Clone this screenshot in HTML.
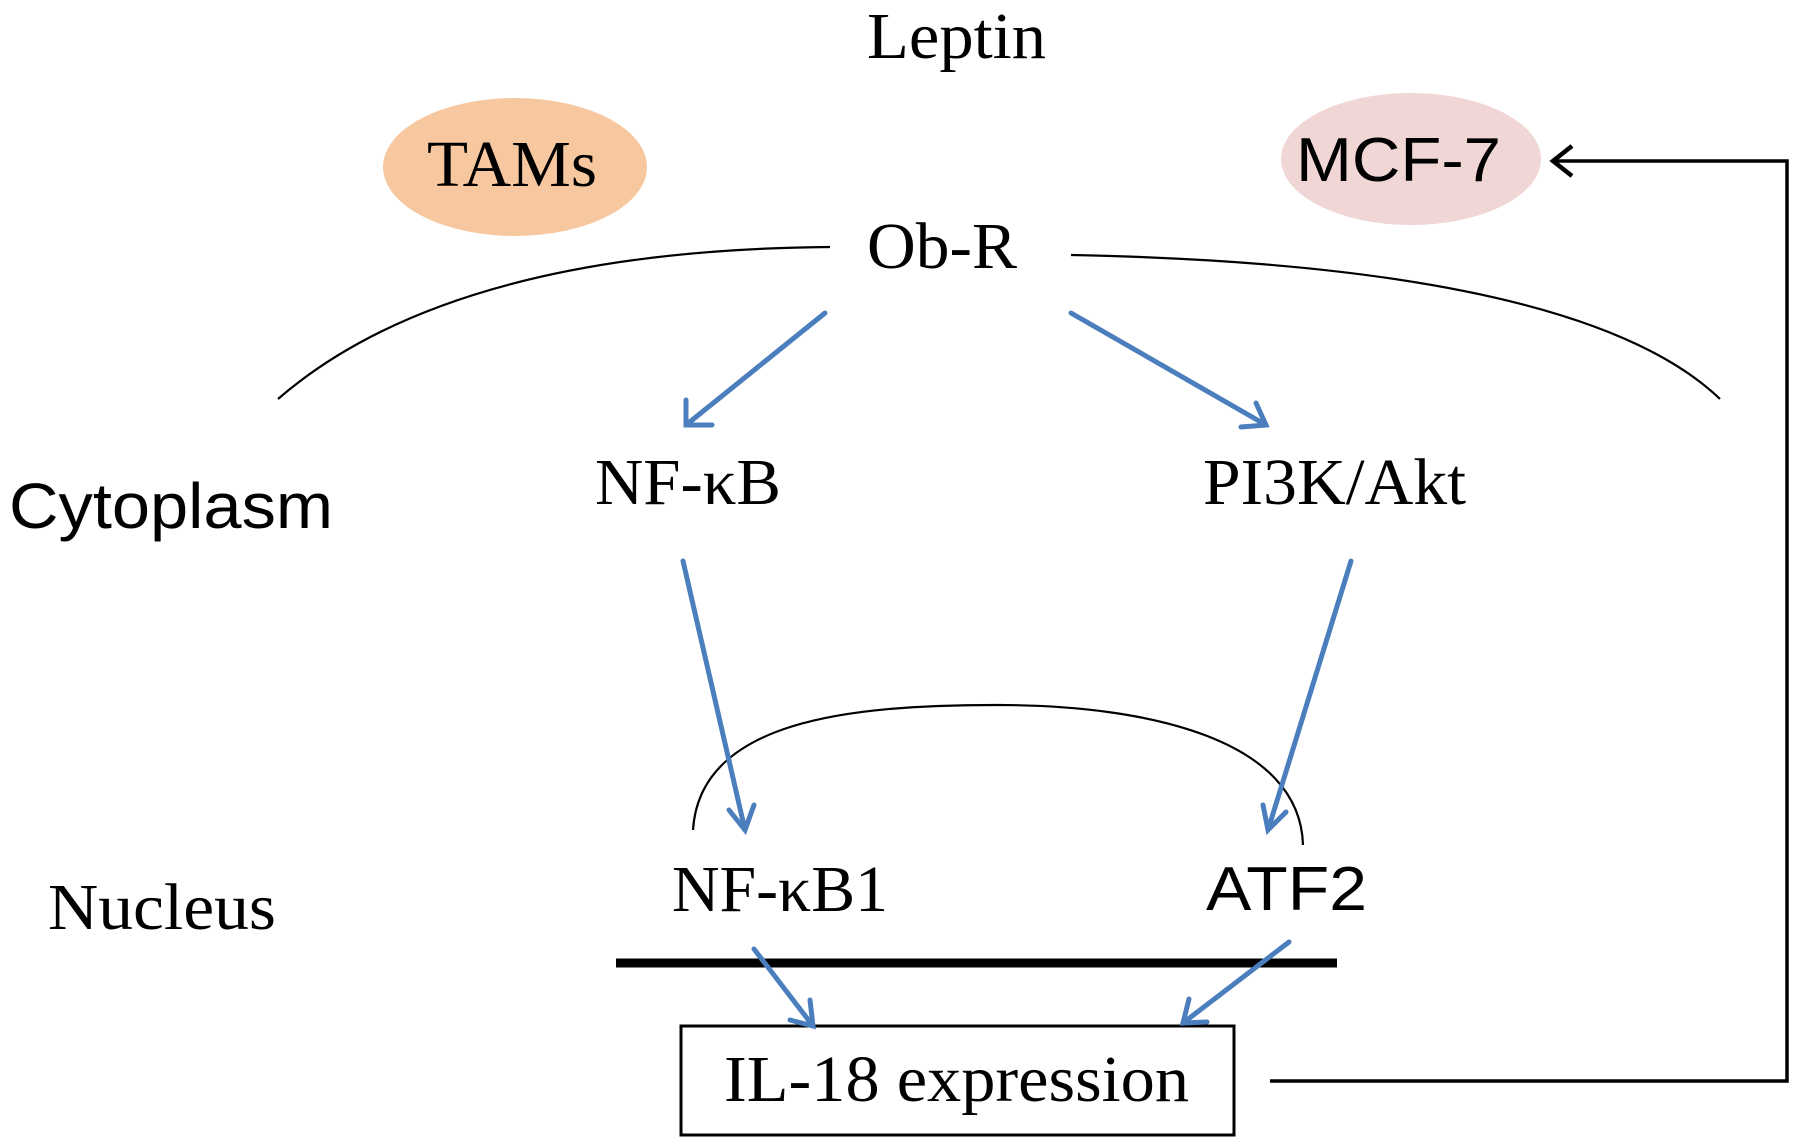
<!DOCTYPE html>
<html><head><style>html,body{margin:0;padding:0;background:#fff}</style></head>
<body>
<svg width="1795" height="1143" viewBox="0 0 1795 1143" xmlns="http://www.w3.org/2000/svg">
<ellipse cx="515" cy="167" rx="132" ry="69" fill="#f7c8a0"/>
<ellipse cx="1411" cy="159" rx="130" ry="66" fill="#f0d6d4"/>
<g font-family="Liberation Serif, serif" fill="#000" lengthAdjust="spacingAndGlyphs">
<text x="867" y="58" font-size="66" textLength="179" lengthAdjust="spacingAndGlyphs">Leptin</text>
<text x="427" y="186" font-size="66" textLength="170" lengthAdjust="spacingAndGlyphs">TAMs</text>
<text x="867" y="268" font-size="66" textLength="150" lengthAdjust="spacingAndGlyphs">Ob-R</text>
<text x="595" y="504" font-size="66" textLength="186" lengthAdjust="spacingAndGlyphs">NF-κB</text>
<text x="1203" y="504" font-size="66" textLength="263" lengthAdjust="spacingAndGlyphs">PI3K/Akt</text>
<text x="672" y="911" font-size="66" textLength="216" lengthAdjust="spacingAndGlyphs">NF-κB1</text>
<text x="48" y="929" font-size="66" textLength="228" lengthAdjust="spacingAndGlyphs">Nucleus</text>
<text x="724" y="1101" font-size="66" textLength="465" lengthAdjust="spacingAndGlyphs">IL-18 expression</text>
</g>
<g font-family="Liberation Sans, sans-serif" fill="#000">
<text x="1296" y="181" font-size="62" textLength="205" lengthAdjust="spacingAndGlyphs">MCF-7</text>
<text x="9" y="528" font-size="64" textLength="324" lengthAdjust="spacingAndGlyphs">Cytoplasm</text>
<text x="1206" y="910" font-size="62" textLength="161" lengthAdjust="spacingAndGlyphs">ATF2</text>
</g>
<g fill="none" stroke="#000" stroke-width="2.2">
<path d="M278,399 Q450,250 830,247"/>
<path d="M1071,255 Q1580,265 1720,399"/>
<path d="M693,830 C700,720 850,705 997,705 C1150,705 1300,740 1303,845"/>
</g>
<line x1="616" y1="963" x2="1337" y2="963" stroke="#000" stroke-width="9"/>
<rect x="681" y="1026" width="553" height="109" fill="none" stroke="#000" stroke-width="3"/>
<g fill="none" stroke="#000" stroke-width="3.5">
<path d="M1270,1081 H1787 V161 H1555"/>
<path d="M1572,146 L1553,161 L1572,176" stroke-width="4.5"/>
</g>
<g stroke="#4a7ebd" stroke-width="5" fill="none" stroke-linecap="round">
<line x1="825" y1="313" x2="686" y2="425"/><path d="M686,400 L686,425 L712,425"/>
<line x1="1071" y1="313" x2="1266" y2="425"/><path d="M1241,427 L1266,425 L1256,403"/>
<line x1="683" y1="561" x2="745" y2="830"/><path d="M729,810 L745,830 L754,805"/>
<line x1="1351" y1="561" x2="1268" y2="830"/><path d="M1263,805 L1268,830 L1286,812"/>
<line x1="754" y1="949" x2="813" y2="1026"/><path d="M790,1020 L813,1026 L810,1000"/>
<line x1="1289" y1="942" x2="1183" y2="1023"/><path d="M1189,999 L1183,1023 L1207,1022"/>
</g>
</svg>
</body></html>
